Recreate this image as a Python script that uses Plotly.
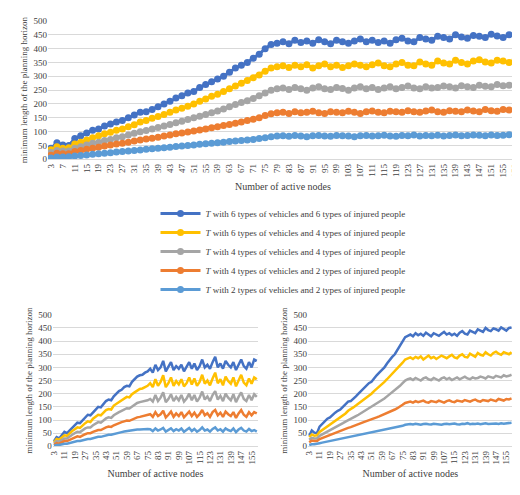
import plotly.graph_objects as go

# number of active nodes (every second value)
nodes = [str(n) for n in range(3, 160, 2)]

# smooth experiment (top chart and bottom-right chart)
t66 = [40, 60, 52, 50, 75, 85, 95, 105, 110, 120, 128, 135, 140, 150, 160, 170, 172, 180, 190, 200,
       210, 222, 230, 240, 245, 260, 270, 280, 290, 300, 315, 330, 340, 350, 365, 380, 400, 415,
       420, 425, 418, 430, 422, 428, 420, 432, 425, 418, 430, 425, 420, 428, 435, 425, 430, 422, 428, 420,
       432, 438, 428, 425, 440, 435, 430, 445, 440, 435, 450, 442, 438, 448, 445, 440, 452, 446, 440, 450, 452]
t64 = [35, 45, 40, 42, 55, 62, 70, 78, 85, 92, 98, 105, 110, 118, 125, 135, 140, 148, 155, 162,
       170, 178, 185, 192, 200, 210, 218, 228, 235, 245, 255, 265, 275, 285, 295, 305, 318, 330,
       335, 338, 332, 340, 335, 342, 330, 338, 345, 335, 340, 332, 338, 345, 340, 335, 342, 348, 338, 335,
       345, 350, 340, 338, 352, 345, 340, 355, 348, 345, 358, 350, 345, 355, 360, 352, 348, 358, 355, 350, 358]
t44 = [25, 32, 30, 30, 40, 45, 52, 58, 62, 68, 72, 78, 82, 88, 94, 100, 104, 110, 115, 120,
       126, 132, 138, 144, 150, 156, 162, 168, 175, 182, 190, 198, 205, 212, 220, 230, 240, 250,
       255, 258, 252, 260, 255, 250, 258, 262, 255, 252, 260, 256, 250, 258, 262, 255, 260, 252, 258, 262,
       255, 260, 265, 258, 255, 262, 258, 260, 265, 262, 258, 266, 262, 260, 268, 264, 262, 270, 266, 268, 272]
t42 = [15, 22, 20, 20, 28, 32, 36, 40, 44, 48, 52, 55, 58, 62, 66, 70, 73, 76, 80, 84,
       88, 92, 95, 99, 102, 106, 110, 114, 118, 122, 126, 130, 135, 140, 145, 150, 158, 165,
       168, 170, 166, 172, 168, 170, 174, 168, 166, 172, 170, 168, 174, 170, 166, 172, 175, 170, 168, 174,
       172, 170, 176, 172, 170, 175, 178, 172, 170, 176, 174, 172, 178, 175, 172, 180, 176, 174, 180, 178, 182]
t22 = [5, 8, 8, 9, 12, 14, 16, 18, 20, 22, 24, 26, 28, 30, 32, 34, 36, 38, 40, 42,
       44, 46, 48, 50, 52, 54, 56, 58, 60, 62, 64, 66, 68, 70, 72, 75, 78, 82,
       84, 85, 83, 86, 84, 82, 85, 86, 84, 83, 86, 85, 84, 82, 85, 86, 84, 85, 87, 84,
       83, 86, 85, 88, 84, 86, 85, 87, 84, 86, 88, 85, 86, 88, 87, 85, 88, 86, 87, 89, 90]

# noisy experiment (bottom-left chart)
n66 = [20, 35, 30, 45, 55, 50, 60, 72, 80, 90, 88, 100, 110, 120, 118, 130, 140, 150, 148, 160,
       172, 178, 175, 190, 200, 210, 215, 225, 230, 228, 245, 255, 265, 270, 272, 280, 285,
       295, 280, 310, 290, 300, 325, 285, 300, 320, 290, 305, 295, 310, 285, 300, 320, 295, 315, 290, 305,
       330, 300, 310, 295, 320, 340, 300, 315, 295, 325, 310, 300, 320, 290, 310, 330, 305, 295, 320, 300, 330, 325]
n64 = [15, 28, 25, 35, 42, 40, 50, 58, 65, 72, 70, 80, 88, 95, 92, 105, 112, 120, 118, 130,
       138, 142, 140, 155, 162, 170, 175, 182, 188, 186, 198, 205, 212, 218, 220, 225, 230,
       240, 225, 255, 230, 245, 270, 225, 240, 262, 230, 248, 235, 255, 228, 240, 262, 235, 258, 230, 245,
       272, 238, 250, 232, 258, 280, 240, 255, 232, 265, 248, 238, 262, 228, 250, 272, 242, 232, 258, 238, 262, 255]
n44 = [10, 20, 18, 25, 30, 30, 38, 44, 50, 55, 54, 62, 68, 72, 72, 80, 86, 92, 90, 100,
       106, 110, 108, 118, 125, 130, 135, 140, 145, 144, 152, 160, 165, 168, 170, 172, 175,
       180, 170, 195, 172, 185, 205, 168, 180, 198, 172, 188, 175, 195, 170, 182, 200, 175, 195, 170, 185,
       208, 178, 190, 172, 195, 210, 178, 192, 172, 200, 185, 175, 198, 168, 188, 205, 180, 172, 195, 175, 198, 188]
n42 = [5, 12, 10, 15, 20, 20, 25, 30, 34, 38, 36, 42, 46, 50, 50, 55, 58, 62, 62, 68,
       72, 75, 74, 80, 85, 88, 92, 95, 98, 97, 102, 108, 110, 112, 114, 116, 118,
       122, 112, 130, 115, 122, 135, 110, 120, 132, 112, 125, 115, 130, 110, 120, 132, 115, 128, 112, 122,
       138, 118, 126, 112, 130, 138, 118, 128, 112, 132, 122, 115, 130, 108, 125, 138, 120, 112, 130, 118, 130, 125]
n22 = [2, 5, 5, 8, 10, 10, 13, 16, 18, 20, 20, 23, 26, 28, 28, 31, 33, 36, 36, 39,
       42, 44, 44, 47, 50, 52, 54, 56, 58, 58, 60, 62, 64, 64, 65, 66, 66,
       65, 58, 68, 60, 64, 70, 56, 62, 68, 58, 65, 60, 68, 55, 62, 70, 58, 66, 56, 62,
       72, 60, 64, 56, 66, 72, 60, 65, 56, 68, 62, 58, 68, 54, 64, 70, 60, 56, 66, 58, 62, 56]

names = [
    "<i>T</i> with 6 types of vehicles and 6 types of injured people",
    "<i>T</i> with 6 types of vehicles and 4 types of injured people",
    "<i>T</i> with 4 types of vehicles and 4 types of injured people",
    "<i>T</i> with 4 types of vehicles and 2 types of injured people",
    "<i>T</i> with 2 types of vehicles and 2 types of injured people",
]
colors = ["#4472C4", "#FFC000", "#A5A5A5", "#ED7D31", "#5B9BD5"]
smooth = [t66, t64, t44, t42, t22]
noisy = [n66, n64, n44, n42, n22]

fig = go.Figure()
for name, color, ys in zip(names, colors, smooth):
    fig.add_trace(go.Scatter(x=nodes[:len(ys)], y=ys, name=name, mode="lines+markers",
                             line=dict(color=color, width=3), marker=dict(size=7, color=color),
                             xaxis="x", yaxis="y"))
for color, ys in zip(colors, noisy):
    fig.add_trace(go.Scatter(x=nodes[:len(ys)], y=ys, mode="lines", showlegend=False,
                             line=dict(color=color, width=2.5), xaxis="x2", yaxis="y2"))
for color, ys in zip(colors, smooth):
    fig.add_trace(go.Scatter(x=nodes[:len(ys)], y=ys, mode="lines", showlegend=False,
                             line=dict(color=color, width=2.5), xaxis="x3", yaxis="y3"))

ytitle = "minimum length of the planning horizon"
xtitle = "Number of active nodes"


def xaxis(domain, step, anchor):
    return dict(domain=domain, anchor=anchor, type="category", range=[-0.5, len(nodes) - 0.5],
                tickvals=nodes[::step], tickangle=-90, showgrid=False, showline=True,
                linecolor="#D9D9D9", ticks="", tickfont=dict(size=9),
                title=dict(text=xtitle, font=dict(size=10), standoff=6))


def yaxis(domain, anchor):
    return dict(domain=domain, anchor=anchor, range=[0, 500], dtick=50, gridcolor="#D9D9D9",
                zeroline=False, tickfont=dict(size=9),
                title=dict(text=ytitle, font=dict(size=9), standoff=4))


fig.update_layout(
    width=520, height=495,
    margin=dict(l=40, r=10, t=8, b=30),
    paper_bgcolor="white", plot_bgcolor="white",
    font=dict(family="Liberation Serif", color="#404040"),
    xaxis=xaxis([0, 1], 2, "y"),
    yaxis=yaxis([0.694, 1], "x"),
    xaxis2=xaxis([0.01, 0.447], 4, "y2"),
    yaxis2=yaxis([0.059, 0.35], "x2"),
    xaxis3=xaxis([0.553, 0.989], 4, "y3"),
    yaxis3=yaxis([0.059, 0.35], "x3"),
    legend=dict(x=0.5, xanchor="center", y=0.606, yanchor="top", font=dict(size=9),
                tracegroupgap=0, itemwidth=40),
)

fig.write_html("out.html")
